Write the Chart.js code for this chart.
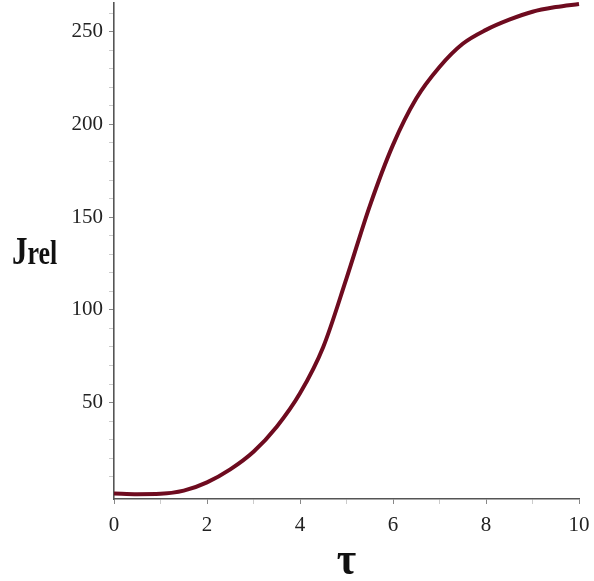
<!DOCTYPE html>
<html>
<head>
<meta charset="utf-8">
<script src="https://cdn.jsdelivr.net/npm/chart.js@4"></script>
<style>
html,body{margin:0;padding:0;background:#fff;}
#wrap{width:594px;height:581px;position:relative;}
</style>
</head>
<body>
<div id="wrap"><canvas id="c" width="594" height="581"></canvas></div>
<script>
// τ values (x) and J_rel values (y)
const tau  = [0, 0.5, 1, 1.5, 2, 2.5, 3, 3.5, 4, 4.5, 5, 5.5, 6, 6.5, 7, 7.5, 8, 8.5, 9, 9.5, 10];
const jrel = [1, 0.6, 0.8, 2.5, 7, 14, 23.5, 37, 55, 80, 117, 156, 189, 214, 231, 243.5, 251, 256.5, 260.8, 263.3, 265];
// tick values
const xTicks = [0,1,2,3,4,5,6,7,8,9,10];
const xLabels = [0,2,4,6,8,10];
const yTicks = [10,20,30,40,50,60,70,80,90,100,110,120,130,140,150,160,170,180,190,200,210,220,230,240,250,260];
const yLabels = [50,100,150,200,250];
const xTitle = 'τ';
const yTitleMain = 'J';
const yTitleSub = 'rel';

const points = tau.map((t,i)=>({x:t,y:jrel[i]}));

const titlePlugin = {
  id:'titles',
  afterDraw(chart){
    const ctx = chart.ctx;
    const area = chart.chartArea;
    ctx.save();
    ctx.fillStyle = '#111';
    ctx.textBaseline = 'alphabetic';
    ctx.textAlign = 'center';
    ctx.font = 'bold 42px "Liberation Serif"';
    ctx.save();
    ctx.translate((area.left+area.right)/2, 574);
    ctx.scale(1,1.12);
    ctx.fillText(xTitle, 0, 0);
    ctx.restore();
    // y title, horizontal
    ctx.textAlign = 'left';
    ctx.save();
    ctx.translate(12, 264);
    ctx.scale(1,1.3);
    ctx.font = 'bold 31px "Liberation Serif"';
    ctx.fillText(yTitleMain, 0, 0);
    const w = ctx.measureText(yTitleMain).width;
    ctx.font = 'bold 26px "Liberation Serif"';
    ctx.fillText(yTitleSub, w, 0);
    ctx.restore();
    ctx.restore();
  }
};

new Chart(document.getElementById('c'), {
  type:'line',
  data:{datasets:[{
    data:points,
    borderColor:'#6e0b1f',
    borderWidth:4,
    pointRadius:0,
    cubicInterpolationMode:'monotone',
    fill:false,
    clip:6
  }]},
  options:{
    responsive:false,
    animation:false,
    events:[],
    layout:{padding:{top:3,right:15,left:0,bottom:0}},
    plugins:{legend:{display:false},tooltip:{enabled:false}},
    scales:{
      x:{
        type:'linear', min:0, max:10,
        afterBuildTicks(s){ s.ticks = xTicks.map(v=>({value:v})); },
        afterFit(s){ s.height = 82; s.paddingLeft = 0; s.paddingRight = 0; },
        border:{display:true,color:'#555',width:1.6},
        grid:{drawOnChartArea:false,drawTicks:true,tickLength:5,
          tickColor:(c)=> xLabels.includes(c.tick && c.tick.value) ? '#888' : '#ccc'},
        ticks:{
          autoSkip:false, maxRotation:0, padding:9,
          color:'#222',
          font:{family:'"Liberation Serif"',size:21},
          callback:(v)=> xLabels.includes(v) ? String(v) : ''
        }
      },
      y:{
        type:'linear', min:-2, max:265.5,
        afterBuildTicks(s){ s.ticks = yTicks.map(v=>({value:v})); },
        afterFit(s){ s.width = 114; s.paddingTop = 0; s.paddingBottom = 0; },
        border:{display:true,color:'#555',width:1.6},
        grid:{drawOnChartArea:false,drawTicks:true,tickLength:5,
          tickColor:(c)=> yLabels.includes(c.tick && c.tick.value) ? '#888' : '#ccc'},
        ticks:{
          autoSkip:false, padding:6,
          color:'#222',
          font:{family:'"Liberation Serif"',size:21},
          callback:(v)=> yLabels.includes(v) ? String(v) : ''
        }
      }
    }
  },
  plugins:[titlePlugin]
});
</script>
</body>
</html>
